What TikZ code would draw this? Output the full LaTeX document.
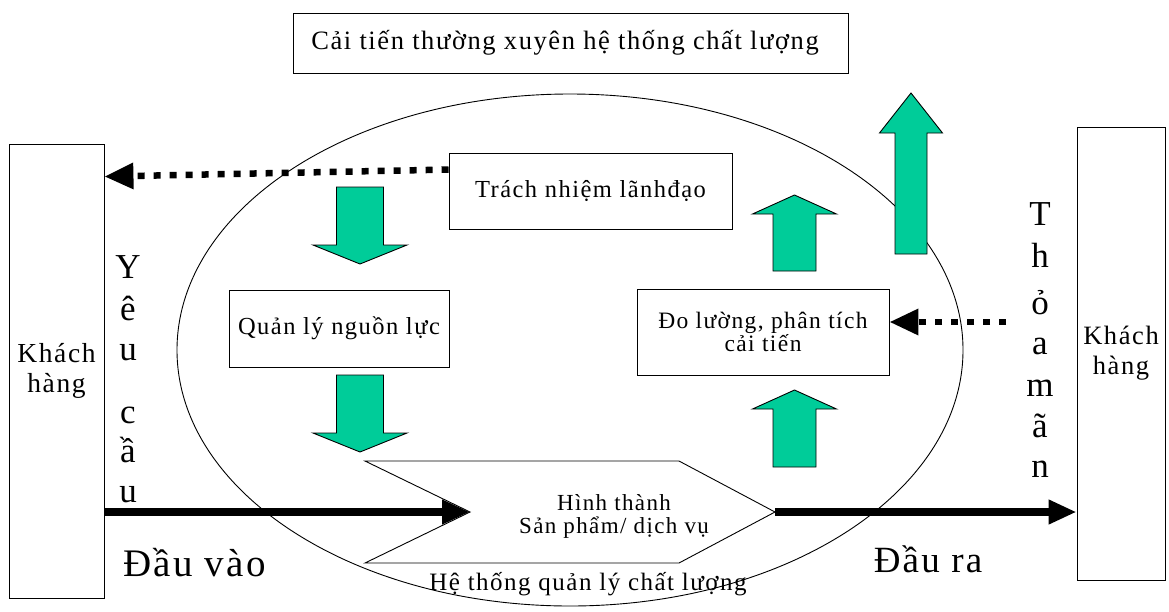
\documentclass[tikz,border=0pt]{standalone}
\usepackage{fontspec}
\setmainfont{Liberation Serif}[LetterSpace=6]
\usetikzlibrary{arrows.meta}

\definecolor{qmgreen}{HTML}{00CC99}

\tikzset{
  box/.style={draw, line width=0.9pt, inner sep=0pt, align=center},
  greenarrow/.style={draw, line width=0.9pt, fill=qmgreen, line join=miter},
  dotline/.style={line width=6.5pt, dash pattern=on 7pt off 9pt,
    -{Triangle[length=29pt,width=25pt]}},
  flowline/.style={line width=8pt, -{Triangle[length=28pt,width=23pt]}},
  vletter/.style={anchor=base, inner sep=0pt, font=\fontsize{35}{35}\selectfont},
}

\begin{document}
\begin{tikzpicture}[x=1pt,y=-1pt]
\useasboundingbox (0,0) rectangle (1169,611);

% ---------------------------
% Hệ thống quản lý chất lượng (ellipse)
% ---------------------------
\draw[line width=0.9pt] (570,350) ellipse [x radius=393pt, y radius=256pt];
\node[anchor=base, font=\fontsize{25}{25}\selectfont] (htql) at (588,590)
  {Hệ thống quản lý chất lượng};

% ---------------------------
% Hộp
% ---------------------------
\node[box, minimum width=555pt, minimum height=60pt,
  font=\fontsize{26.5}{30}\selectfont] (caitien) at (570.5,43) {};
\node[font=\fontsize{26.5}{30}\selectfont] (caitientxt) at (565,43)
  {Cải tiến thường xuyên hệ thống chất lượng};
\node[box, minimum width=95pt, minimum height=454pt,
  font=\fontsize{27.5}{30}\selectfont] (kh1) at (56.5,371) {Khách\\hàng};
\node[box, minimum width=88pt, minimum height=453pt,
  font=\fontsize{26.5}{30}\selectfont] (kh2) at (1121,353.5) {Khách\\hàng};
\node[box, minimum width=283pt, minimum height=76pt,
  font=\fontsize{24.5}{24}\selectfont] (trach) at (590.5,191) {Trách nhiệm lãnhđạo};
\node[box, minimum width=220pt, minimum height=77pt,
  font=\fontsize{24.5}{24}\selectfont] (quanly) at (339,328.5) {Quản lý nguồn lực};
\node[box, minimum width=252pt, minimum height=86pt,
  font=\fontsize{23.5}{21}\selectfont] (doluong) at (763,332)
  {Đo lường, phân tích\\cải tiến};

% ---------------------------
% Hình thành sản phẩm
% ---------------------------
\coordinate (hA) at (365,461);
\coordinate (hN) at (470,512);
\coordinate (hB) at (365,563);
\coordinate (hC) at (679,563);
\coordinate (hD) at (775,512);
\coordinate (hE) at (679,461);
\draw[line width=0.9pt] (hA)--(hN)--(hB)--(hC)--(hD)--(hE)--cycle;
\node[align=center, font=\fontsize{23}{23}\selectfont] (hinhthanh) at (614,516)
  {Hình thành\\Sản phẩm/ dịch vụ};

% ---------------------------
% Mũi tên xanh
% ---------------------------
\foreach \cx/\ya/\yb/\yc/\sw/\hw in {360/187/245/264/23.5/47,
    360/375/433/452/23.5/47, 794.5/271/214/195/21.5/42,
    794.5/467/409/390/21.5/42, 911/254/133/93/16/31.5}
  \draw[greenarrow] ({\cx-\sw},\ya) -- ({\cx-\sw},\yb) -- ({\cx-\hw},\yb)
    -- (\cx,\yc) -- ({\cx+\hw},\yb) -- ({\cx+\sw},\yb) -- ({\cx+\sw},\ya) -- cycle;

% ---------------------------
% Đầu vào / đầu ra
% ---------------------------
\draw[flowline] (kh1.east |- hN) -- (hN);
\draw[flowline] (hD) -- (kh2.west |- hD);
\draw[dotline] ([yshift=-17pt]trach.north west) -- ([yshift=-33pt]kh1.north east);
\coordinate (tm) at (1006,322);
\draw[dotline] (tm) -- ([yshift=10pt]doluong.east);

\node[anchor=base, font=\fontsize{39}{39}\selectfont] (dauvao) at (194.5,576) {Đầu vào};
\node[anchor=base, font=\fontsize{37}{37}\selectfont] (daura) at (928,572) {Đầu ra};

\foreach \ch/\yb [count=\i] in {Y/278, ê/320, u/360, c/423, ầ/462, u/502}
  \node[vletter] (yc\i) at (128,\yb) {\ch};
\foreach \ch/\yb [count=\i] in {T/225, h/267, ỏ/314, a/354, m/396, ã/437, n/477}
  \node[vletter] (tm\i) at (1040,\yb) {\ch};

\end{tikzpicture}
\end{document}
